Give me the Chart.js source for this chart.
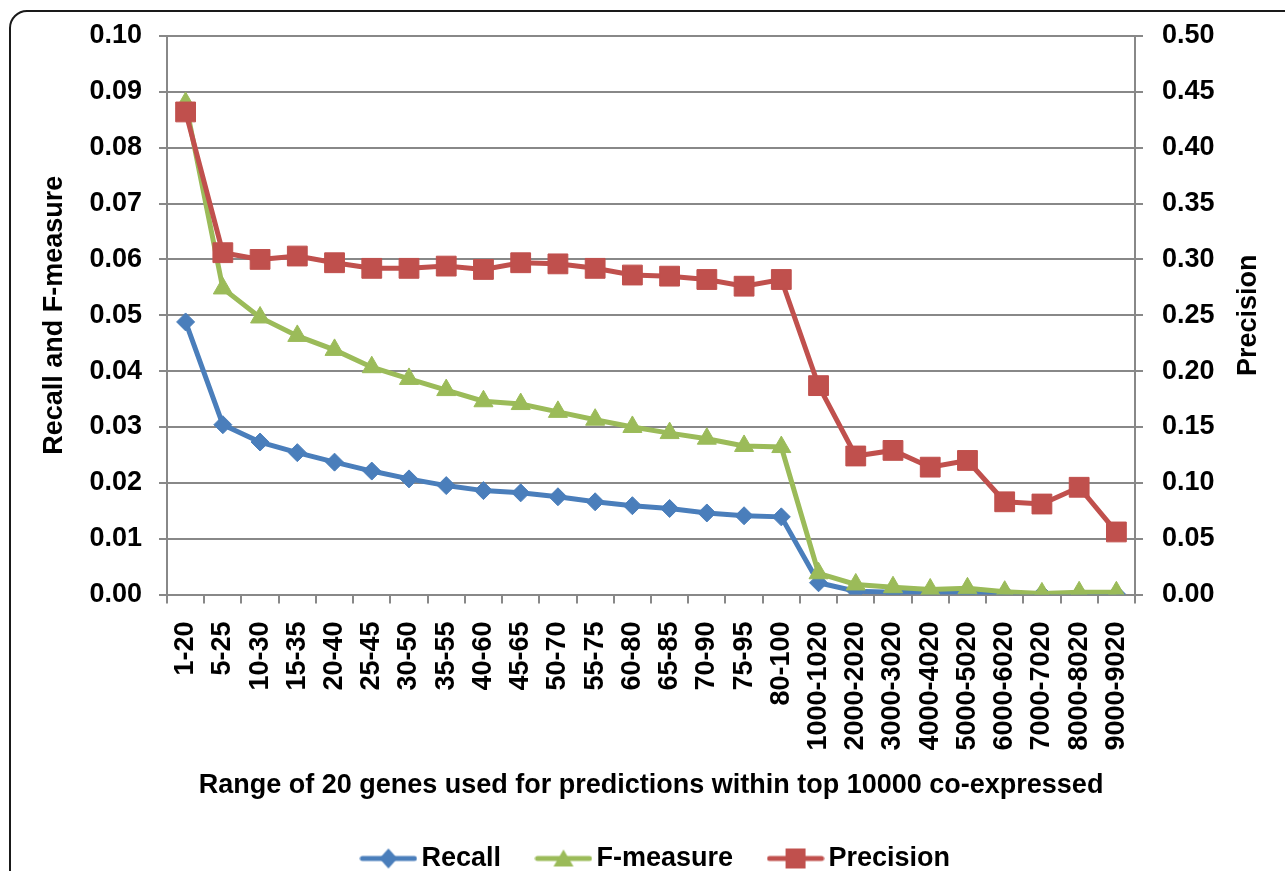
<!DOCTYPE html>
<html lang="en">
  <head>
    <title>Recall, F-measure and Precision</title>
    <meta charset="UTF-8" />
    <style>
      body { margin: 0; background: #fff; overflow: hidden; }
      .frame {
        position: absolute; left: 9px; top: 10px; width: 1320px; height: 920px;
        border: 2px solid #1a1a1a; border-radius: 18px;
      }
      #myChart { position: absolute; left: 0; top: 0; }
    </style>
  </head>
  <body>
    <div class="frame"></div>
    <canvas id="myChart" width="1285" height="882"></canvas>
    <script src="https://cdn.jsdelivr.net/npm/chart.js@4.4.0/dist/chart.umd.min.js"></script>
    <script>
      var ranges = ["1-20", "5-25", "10-30", "15-35", "20-40", "25-45", "30-50", "35-55",
        "40-60", "45-65", "50-70", "55-75", "60-80", "65-85", "70-90", "75-95", "80-100",
        "1000-1020", "2000-2020", "3000-3020", "4000-4020", "5000-5020", "6000-6020",
        "7000-7020", "8000-8020", "9000-9020"];

      var recall = [0.0488, 0.0304, 0.0273, 0.0254, 0.0237, 0.0221, 0.0207, 0.0195, 0.0186,
        0.0182, 0.0175, 0.0166, 0.0159, 0.0154, 0.0146, 0.0141, 0.0139,
        0.0021, 0.0006, 0.0004, 0.0004, 0.0004, 0.0002, 0.0001, 0.0001, 0.0001];
      var fMeasure = [0.088, 0.0548, 0.0496, 0.0463, 0.0438, 0.0407, 0.0386, 0.0366, 0.0346,
        0.0341, 0.0327, 0.0313, 0.0300, 0.0289, 0.0279, 0.0266, 0.0264,
        0.0038, 0.0018, 0.0013, 0.0009, 0.0011, 0.0005, 0.0002, 0.0004, 0.0004];
      var precision = [0.432, 0.306, 0.300, 0.303, 0.297, 0.292, 0.292, 0.294, 0.291,
        0.297, 0.296, 0.292, 0.286, 0.285, 0.282, 0.276, 0.282,
        0.187, 0.124, 0.129, 0.114, 0.120, 0.083, 0.081, 0.096, 0.056];

      var blue = "#4a7ebb";
      var green = "#9bbb59";
      var red = "#c0504d";
      var gridGray = "#888888";
      var fontFamily = "'Liberation Sans', Arial, sans-serif";
      var boldFont = { family: fontFamily, size: 27, weight: "bold" };

      // legend icon: short line with the marker on it
      function legendIcon(color, shape) {
        var c = document.createElement("canvas");
        c.width = 58;
        c.height = 26;
        var g = c.getContext("2d");
        g.strokeStyle = color;
        g.fillStyle = color;
        g.lineWidth = 5;
        g.lineCap = "round";
        g.beginPath();
        g.moveTo(3, 13);
        g.lineTo(55, 13);
        g.stroke();
        g.beginPath();
        if (shape == "diamond") {
          g.moveTo(29, 3); g.lineTo(38, 13); g.lineTo(29, 23); g.lineTo(20, 13);
        } else if (shape == "triangle") {
          g.moveTo(29, 4); g.lineTo(39, 21); g.lineTo(19, 21);
        } else {
          g.rect(19, 3, 20, 20);
        }
        g.closePath();
        g.fill();
        return c;
      }

      var icons = [legendIcon(blue, "diamond"), legendIcon(green, "triangle"), legendIcon(red, "square")];

      // right axis title reads bottom to top, like the left one
      var rightTitle = {
        id: "rightTitle",
        afterDraw: function (chart) {
          var ctx = chart.ctx;
          var area = chart.chartArea;
          ctx.save();
          ctx.translate(1249, (area.top + area.bottom) / 2);
          ctx.rotate(-Math.PI / 2);
          ctx.font = "bold 27px " + fontFamily;
          ctx.fillStyle = "#000";
          ctx.textAlign = "center";
          ctx.textBaseline = "middle";
          ctx.fillText("Precision", 0, 0);
          ctx.restore();
        },
      };

      var ctx = document.getElementById("myChart");
      var myChart = new Chart(ctx, {
        type: "line",
        data: {
          labels: ranges,
          datasets: [
            {
              label: "Recall",
              data: recall,
              yAxisID: "y",
              borderColor: blue,
              backgroundColor: blue,
              borderWidth: 5,
              pointStyle: "rectRot",
              pointRadius: 9,
              pointBorderWidth: 1,
              order: 3,
            },
            {
              label: "F-measure",
              data: fMeasure,
              yAxisID: "y",
              borderColor: green,
              backgroundColor: green,
              borderWidth: 5,
              pointStyle: "triangle",
              pointRadius: 11,
              pointBorderWidth: 1,
              order: 2,
            },
            {
              label: "Precision",
              data: precision,
              yAxisID: "y1",
              borderColor: red,
              backgroundColor: red,
              borderWidth: 5,
              pointStyle: "rect",
              pointRadius: 14,
              pointBorderWidth: 1,
              order: 1,
            },
          ],
        },
        options: {
          responsive: false,
          animation: false,
          layout: { padding: { top: 36, left: 34, right: 0, bottom: 0 } },
          plugins: {
            tooltip: { enabled: false },
            legend: {
              position: "bottom",
              labels: {
                usePointStyle: true,
                pointStyleWidth: 39,
                padding: 43,
                color: "#000",
                font: boldFont,
                generateLabels: function (chart) {
                  return chart.data.datasets.map(function (ds, i) {
                    return {
                      text: ds.label,
                      pointStyle: icons[i],
                      fillStyle: ds.backgroundColor,
                      strokeStyle: ds.borderColor,
                      lineWidth: 0,
                      datasetIndex: i,
                      fontColor: "#000",
                    };
                  });
                },
              },
            },
          },
          scales: {
            x: {
              offset: true,
              grid: { display: true, offset: true, drawOnChartArea: false, tickLength: 9, color: gridGray, lineWidth: 2 },
              border: { color: gridGray, width: 2 },
              ticks: {
                autoSkip: false,
                minRotation: 90,
                maxRotation: 90,
                padding: 18,
                color: "#000",
                font: boldFont,
              },
              title: {
                display: true,
                text: "Range of 20 genes used for predictions within top 10000 co-expressed",
                color: "#000",
                font: boldFont,
                padding: { top: 0, bottom: 0 },
              },
              afterFit: function (scale) { scale.height = 207.5; },
            },
            y: {
              position: "left",
              min: 0,
              max: 0.1,
              grid: { color: gridGray, lineWidth: 2, tickLength: 8 },
              border: { color: gridGray, width: 2 },
              ticks: {
                stepSize: 0.01,
                padding: 17,
                color: "#000",
                font: boldFont,
                callback: function (v) { return v.toFixed(2); },
              },
              title: {
                display: true,
                text: "Recall and F-measure",
                color: "#000",
                font: boldFont,
                padding: { top: 4, bottom: 0 },
              },
              afterFit: function (scale) { scale.width = 133; },
            },
            y1: {
              position: "right",
              min: 0,
              max: 0.5,
              grid: { drawOnChartArea: false, color: gridGray, lineWidth: 2, tickLength: 8 },
              border: { color: gridGray, width: 2 },
              ticks: {
                stepSize: 0.05,
                padding: 19,
                color: "#000",
                font: boldFont,
                callback: function (v) { return v.toFixed(2); },
              },
              afterFit: function (scale) { scale.width = 150; },
            },
          },
        },
        plugins: [rightTitle],
      });
    </script>
  </body>
</html>
